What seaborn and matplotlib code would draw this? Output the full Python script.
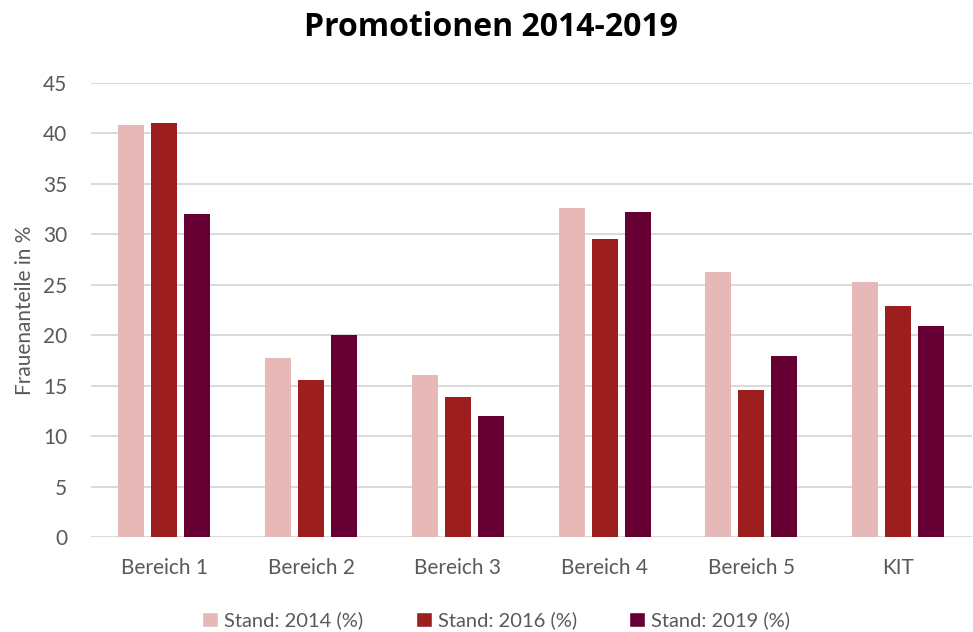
import matplotlib
matplotlib.use("Agg")
from matplotlib import pyplot as plt
from matplotlib.patches import Patch
import pandas as pd
import seaborn as sns

bereiche = ["Bereich 1", "Bereich 2", "Bereich 3", "Bereich 4", "Bereich 5", "KIT"]
stand_2014 = [40.8, 17.7, 16.1, 32.6, 26.3, 25.3]
stand_2016 = [41.0, 15.6, 13.9, 29.5, 14.6, 22.9]
stand_2019 = [32.0, 20.0, 12.0, 32.2, 17.9, 20.9]
serien = ["Stand: 2014 (%)", "Stand: 2016 (%)", "Stand: 2019 (%)"]
farben = ["#E6B8B7", "#9C1E1F", "#660033"]

df = pd.DataFrame({
    "Bereich": bereiche * 3,
    "Wert": stand_2014 + stand_2016 + stand_2019,
    "Stand": [s for s in serien for _ in bereiche],
})

sns.set_style("white")
plt.rcParams['font.family'] = ['Lato', 'DejaVu Sans']
grau = "#595959"

fig = plt.figure(figsize=(9.73, 6.32), dpi=100)
ax = fig.add_axes([0.0935, 0.150, 0.905, 0.719])

sns.barplot(data=df, x="Bereich", y="Wert", hue="Stand", palette=farben,
            width=0.673, gap=0.21, ax=ax, saturation=1, legend=False,
            linewidth=0)

ax.set_ylim(0, 45)
ax.set_xlim(-0.5, 5.5)
ax.set_yticks(range(0, 46, 5))
ax.yaxis.grid(True, color="#D9D9D9", linewidth=1.4)
ax.set_axisbelow(True)
for s in ax.spines.values():
    s.set_visible(False)
ax.tick_params(axis="both", length=0, colors=grau, labelsize=15)
ax.tick_params(axis="x", pad=15)
ax.tick_params(axis="y", pad=17)
ax.set_xlabel("")
ax.set_ylabel("Frauenanteile in %", color=grau, fontsize=15, labelpad=6)

fig.suptitle("Promotionen 2014-2019", fontsize=23, fontweight="bold", x=0.505, y=0.982,
             color="black", family=["Open Sans", "DejaVu Sans"])

handles = [Patch(facecolor=c, label=l) for c, l in zip(farben, serien)]
fig.legend(handles=handles, loc="center", bbox_to_anchor=(0.51, 0.018), ncol=3,
           frameon=False, handlelength=0.8, handleheight=0.8, handletextpad=0.3,
           columnspacing=2.6, fontsize=14.5, labelcolor=grau)

fig.savefig("out.png", dpi=100)
